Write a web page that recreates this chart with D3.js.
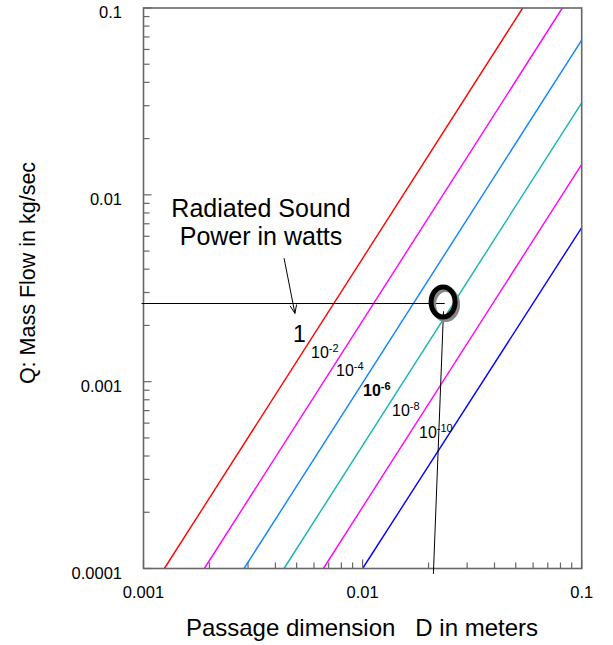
<!DOCTYPE html>
<html lang="en">
	<head>
		<meta charset="utf-8">
		<title>sound power chart</title>
		<script src="https://d3js.org/d3.v7.min.js"></script>
		<style>
			body { margin: 0; background: #fff; }
			text { font-family: Arial, "Liberation Sans", sans-serif; fill: #000; }
		</style>
	</head>

	<body>
		<svg width="613" height="645"></svg>

		<script>
			// line data: each line runs from a start point to an end point
			var powers = ["1", "-2", "-4", "-6", "-8", "-10"];
			var colors = ["#ff0000", "#ff00ff", "#0a84ff", "#12b5b0", "#ff00ff", "#0000ff"];
			var startD = [0.001245, 0.001895, 0.002876, 0.004378, 0.00662, 0.01];
			var startQ = [0.0001, 0.0001, 0.0001, 0.0001, 0.0001, 0.0001];
			var endD = [0.0538, 0.0816, 0.1, 0.1, 0.1, 0.1];
			var endQ = [0.1, 0.1, 0.0674, 0.0311, 0.01456, 0.00668];

			var xTicks = [0.001, 0.01, 0.1];
			var yTicks = [0.0001, 0.001, 0.01, 0.1];

			// the worked example: Q = 0.00262 kg/s, D about 0.0233 m
			var exampleQ = 0.00262;
			var exampleD = 0.0233;

			var svg = d3.select("svg");
			var x = d3.scaleLog().domain([0.001, 0.1]).range([143.5, 581.7]);
			var y = d3.scaleLog().domain([0.0001, 0.1]).range([568.5, 8]);

			// minor ticks 2..9 per decade
			function minors(lo, hi) {
				var out = [];
				for (var p = lo; p < hi; p *= 10)
					for (var k = 2; k <= 9; k++) out.push(p * k);
				return out;
			}

			var axisColor = "#666";

			var lines = svg.append("g").attr("id", "lines");
			powers.forEach(function (p, i) {
				lines.append("line")
					.attr("x1", x(startD[i])).attr("y1", y(startQ[i]))
					.attr("x2", x(endD[i])).attr("y2", y(endQ[i]))
					.attr("stroke", colors[i])
					.attr("stroke-width", 1.4);
			});

			// frame
			svg.append("rect")
				.attr("x", x(0.001)).attr("y", y(0.1))
				.attr("width", x(0.1) - x(0.001)).attr("height", y(0.0001) - y(0.1))
				.attr("fill", "none").attr("stroke", axisColor).attr("stroke-width", 1.6);

			// x ticks (inward)
			var xt = svg.append("g").attr("id", "xticks");
			xt.selectAll("line.minor").data(minors(0.001, 0.1)).enter().append("line")
				.attr("x1", d => x(d)).attr("x2", d => x(d))
				.attr("y1", y(0.0001)).attr("y2", y(0.0001) - 6)
				.attr("stroke", axisColor).attr("stroke-width", 1.2);
			xt.selectAll("line.major").data(xTicks).enter().append("line")
				.attr("x1", d => x(d)).attr("x2", d => x(d))
				.attr("y1", y(0.0001)).attr("y2", y(0.0001) - 9)
				.attr("stroke", axisColor).attr("stroke-width", 1.2);
			xt.selectAll("text").data(xTicks).enter().append("text")
				.attr("x", d => x(d)).attr("y", 598)
				.attr("text-anchor", "middle")
				.style("font-size", "16.5px")
				.text(d => d3.format("")(d));

			// y ticks (inward)
			var yt = svg.append("g").attr("id", "yticks");
			yt.selectAll("line.minor").data(minors(0.0001, 0.1)).enter().append("line")
				.attr("y1", d => y(d)).attr("y2", d => y(d))
				.attr("x1", x(0.001)).attr("x2", x(0.001) + 6)
				.attr("stroke", axisColor).attr("stroke-width", 1.2);
			yt.selectAll("line.major").data(yTicks).enter().append("line")
				.attr("y1", d => y(d)).attr("y2", d => y(d))
				.attr("x1", x(0.001)).attr("x2", x(0.001) + 8)
				.attr("stroke", axisColor).attr("stroke-width", 1.2);
			yt.selectAll("text").data(yTicks).enter().append("text")
				.attr("x", 122)
				.attr("y", d => y(d) + 10)
				.attr("text-anchor", "end")
				.style("font-size", "16.5px")
				.text(d => d3.format("")(d));

			// axis titles
			svg.append("text")
				.attr("x", 362).attr("y", 636)
				.attr("text-anchor", "middle")
				.style("font-size", "24px")
				.style("white-space", "pre")
				.text("Passage dimension   D in meters");
			svg.append("text")
				.attr("transform", "translate(35,273) rotate(-90)")
				.attr("text-anchor", "middle")
				.style("font-size", "21.5px")
				.text("Q: Mass Flow in kg/sec");

			// worked example guide lines
			svg.append("line")
				.attr("x1", x(0.00098)).attr("y1", y(exampleQ))
				.attr("x2", x(0.0237)).attr("y2", y(exampleQ))
				.attr("stroke", "#000").attr("stroke-width", 1);
			svg.append("line")
				.attr("x1", x(0.0234)).attr("y1", y(0.00238))
				.attr("x2", x(0.02104)).attr("y2", y(0.0000935))
				.attr("stroke", "#000").attr("stroke-width", 1);

			// the circled point, with a grey shadow
			var cx = x(exampleD), cy = y(exampleQ) - 1.5;
			svg.append("ellipse")
				.attr("cx", cx + 2.5).attr("cy", cy + 2.5).attr("rx", 12).attr("ry", 15)
				.attr("fill", "none").attr("stroke", "#888").attr("stroke-width", 5);
			svg.append("ellipse")
				.attr("cx", cx).attr("cy", cy).attr("rx", 12).attr("ry", 15)
				.attr("fill", "none").attr("stroke", "#000").attr("stroke-width", 5);

			// legend title and arrow
			svg.append("text")
				.attr("x", 261).attr("y", 217)
				.attr("text-anchor", "middle")
				.style("font-size", "25px")
				.text("Radiated Sound");
			svg.append("text")
				.attr("x", 261).attr("y", 245)
				.attr("text-anchor", "middle")
				.style("font-size", "25px")
				.text("Power in watts");

			var ax1 = x(0.00438), ay1 = y(0.00458), ax2 = x(0.00491), ay2 = y(0.00232);
			svg.append("line")
				.attr("x1", ax1).attr("y1", ay1).attr("x2", ax2).attr("y2", ay2)
				.attr("stroke", "#000").attr("stroke-width", 1);
			var ang = Math.atan2(ay2 - ay1, ax2 - ax1);
			var hl = 9, spread = 0.38;
			svg.append("path")
				.attr("d", "M" + (ax2 - hl * Math.cos(ang - spread)) + "," + (ay2 - hl * Math.sin(ang - spread)) +
					"L" + ax2 + "," + ay2 +
					"L" + (ax2 - hl * Math.cos(ang + spread)) + "," + (ay2 - hl * Math.sin(ang + spread)))
				.attr("fill", "none").attr("stroke", "#000").attr("stroke-width", 1);

			// power labels beside each line
			var labelPos = [[293, 342], [311, 358], [336, 376], [363, 396], [392, 416], [419, 438]];
			powers.forEach(function (p, i) {
				var t = svg.append("text")
					.attr("x", labelPos[i][0]).attr("y", labelPos[i][1]);
				if (p === "1") {
					t.style("font-size", "23px").text("1");
				} else {
					t.style("font-size", "16px")
						.style("font-weight", p === "-6" ? "bold" : "normal");
					t.append("tspan").text("10");
					t.append("tspan").attr("dy", -6).style("font-size", "11px").text(p);
				}
			});
		</script>
	</body>
</html>
